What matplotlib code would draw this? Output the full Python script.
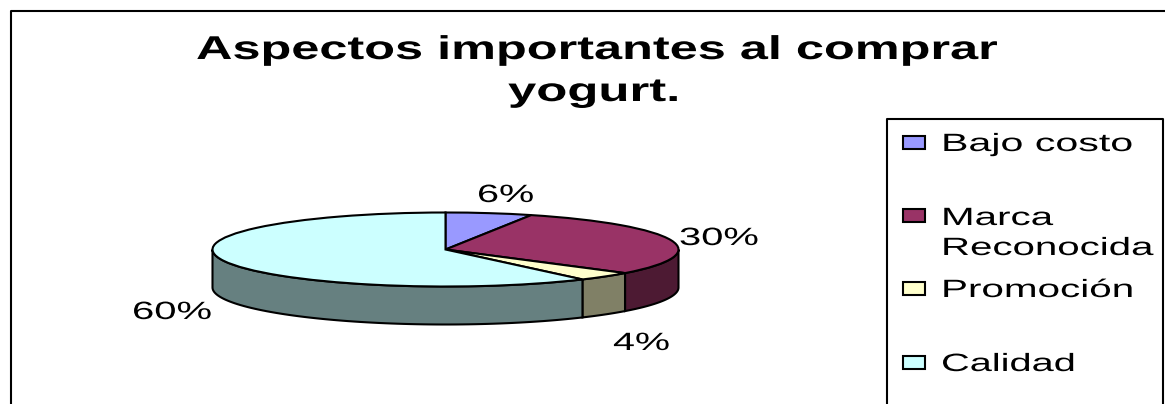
import numpy as np
import matplotlib
matplotlib.use('Agg')
import matplotlib.pyplot as plt
import matplotlib.patheffects as pe
from matplotlib.patches import Rectangle
from matplotlib.transforms import Affine2D

plt.rcParams['font.family'] = ['Liberation Sans', 'DejaVu Sans']

categories = ['Bajo costo', 'Marca Reconocida', 'Promoción', 'Calidad']
values = [6, 30, 4, 60]
pct_labels = ['6%', '30%', '4%', '60%']
top_colors = ['#9999FF', '#993366', '#FFFFCC', '#CCFFFF']
side_colors = ['#4D4D80', '#4D1A33', '#808066', '#668080']

W, H = 1165, 404
cx, cy, rx, ry, depth = 445.5, 249.5, 233, 37, 38
LW = 1.5


# the original text is stretched sideways, so scale the glyphs at draw time
class Stretch(pe.AbstractPathEffect):
    def __init__(self, sx):
        super().__init__()
        self.sx = sx

    def draw_path(self, renderer, gc, tpath, affine, rgbFace=None):
        renderer.draw_path(gc, tpath, Affine2D().scale(self.sx, 1) + affine, rgbFace)


fig = plt.figure(figsize=(W / 100, H / 100), dpi=100)
fig.patch.set_facecolor('white')

# pie axes: the unit circle lands on the flattened ellipse
ax = fig.add_axes([0, 0, 1, 1])
ax.set_zorder(1)
ax.pie(values, colors=top_colors, startangle=90, counterclock=False, radius=1,
       wedgeprops=dict(edgecolor='black', linewidth=LW, zorder=5))
ax.set_aspect('auto')
ax.set_xlim((0 - cx) / rx, (W - cx) / rx)
ax.set_ylim((cy - H) / ry, cy / ry)
ax.axis('off')

# side wall, only the front half can be seen
d = depth / ry
edges = np.cumsum([0] + values) * 3.6
for i in range(len(values)):
    a0 = max(edges[i], 90)
    a1 = min(edges[i + 1], 270)
    if a1 <= a0:
        continue
    t = np.radians(np.linspace(a0, a1, 80))
    xs = np.r_[np.sin(t), np.sin(t[::-1])]
    ys = np.r_[np.cos(t), np.cos(t[::-1]) - d]
    ax.fill(xs, ys, facecolor=side_colors[i], edgecolor='black', linewidth=LW, zorder=3)

# overlay in pixels for frame, legend and text
ov = fig.add_axes([0, 0, 1, 1])
ov.set_zorder(2)
ov.set_xlim(0, W)
ov.set_ylim(H, 0)
ov.axis('off')

# frame runs off the right and bottom of the crop
ov.plot([11, 11, W], [H, 11, 11], color='black', lw=LW)
ov.plot([887, 887, 1163, 1163], [H, 118.5, 118.5, H], color='black', lw=LW)

renderer = fig.canvas.get_renderer()


def label(s, x0, x1, base, px, weight='normal'):
    t = ov.text(x0, base, s, fontsize=px * 0.72, fontweight=weight, color='black',
                ha='left', va='baseline')
    w = t.get_window_extent(renderer).width
    t.set_path_effects([Stretch((x1 - x0) / w)])
    return t


label('Aspectos importantes al comprar', 196, 997, 59, 33, 'bold')
label('yogurt.', 508, 680, 101, 33, 'bold')

label(pct_labels[0], 477, 534, 202, 25)
label(pct_labels[1], 679, 759, 245, 25)
label(pct_labels[2], 613, 670, 350, 25)
label(pct_labels[3], 132, 212, 319, 25)

label('Bajo costo', 941, 1133, 151, 25)
label('Marca', 941, 1053, 225, 25)
label('Reconocida', 941, 1153, 255, 25)
label('Promoción', 941, 1134, 297, 25)
label('Calidad', 941, 1075, 371, 25)

key_tops = [136, 209, 282, 356]
for i in range(len(categories)):
    ov.add_patch(Rectangle((903, key_tops[i]), 22, 13, facecolor=top_colors[i],
                           edgecolor='black', linewidth=LW))

fig.savefig('out.png', dpi=100, facecolor='white')
